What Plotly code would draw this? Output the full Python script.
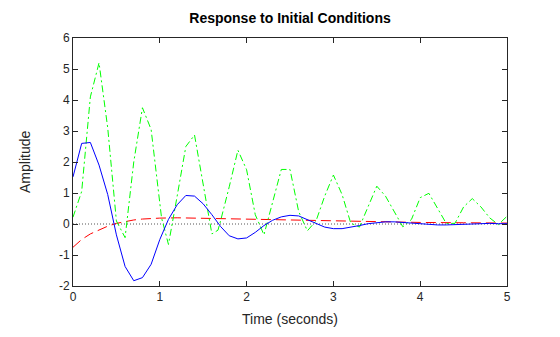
import plotly.graph_objects as go

# Blue (solid) response
blue_t = [0.0, 0.1, 0.2, 0.3, 0.4, 0.5, 0.6, 0.7, 0.8, 0.9, 1.0, 1.1, 1.2, 1.3, 1.4, 1.5,
          1.6, 1.7, 1.8, 1.9, 2.0, 2.1, 2.2, 2.3, 2.4, 2.5, 2.6, 2.7, 2.8, 2.9, 3.0,
          3.1, 3.2, 3.3, 3.4, 3.5, 3.6, 3.7, 3.8, 3.9, 4.0, 4.1, 4.2, 4.3, 4.4, 4.5,
          4.6, 4.7, 4.8, 4.9, 5.0]
blue_y = [1.52, 2.6, 2.63, 1.9, 0.95, -0.35, -1.37, -1.83, -1.73, -1.3, -0.5, 0.15, 0.62,
          0.92, 0.9, 0.65, 0.3, -0.08, -0.38, -0.48, -0.45, -0.27, -0.05, 0.12, 0.23,
          0.28, 0.26, 0.15, 0.02, -0.1, -0.15, -0.15, -0.11, -0.05, 0.01, 0.05, 0.07,
          0.07, 0.05, 0.02, -0.01, -0.03, -0.03, -0.03, -0.02, 0.0, 0.01, 0.02, 0.02,
          0.01, 0.01]

# Green (dash-dot) response
green_t = [0.0, 0.1, 0.2, 0.3, 0.4, 0.5, 0.6, 0.7, 0.8, 0.9, 1.02, 1.1, 1.2, 1.3, 1.4,
           1.5, 1.6, 1.67, 1.7, 1.8, 1.9, 2.0, 2.1, 2.2, 2.3, 2.4, 2.5, 2.6, 2.7, 2.8,
           2.9, 3.0, 3.1, 3.2, 3.3, 3.4, 3.5, 3.6, 3.7, 3.8, 3.9, 4.0, 4.1, 4.2, 4.3,
           4.4, 4.5, 4.6, 4.7, 4.8, 4.9, 5.0]
green_y = [0.22, 1.05, 4.1, 5.2, 3.1, 0.1, -0.44, 2.0, 3.75, 3.05, 0.2, -0.66, 0.9, 2.5,
           2.87, 1.3, -0.32, -0.2, 0.1, 1.2, 2.38, 1.75, 0.3, -0.35, 0.7, 1.76, 1.76,
           0.4, -0.22, 0.1, 0.9, 1.58, 0.95, 0.03, -0.1, 0.55, 1.22, 0.9, 0.4, -0.09,
           0.15, 0.85, 0.99, 0.5, 0.02, 0.02, 0.55, 0.82, 0.55, 0.2, -0.02, 0.25]

# Red (dashed) response
red_t = [0.0, 0.1, 0.2, 0.3, 0.4, 0.5, 0.6, 0.7, 0.8, 0.9, 1.0, 1.2, 1.4, 1.6, 1.8,
         2.0, 2.5, 3.0, 3.5, 4.0, 4.5, 5.0]
red_y = [-0.75, -0.5, -0.32, -0.19, -0.07, 0.02, 0.08, 0.13, 0.16, 0.18, 0.19, 0.2,
         0.19, 0.18, 0.17, 0.16, 0.12, 0.09, 0.07, 0.05, 0.04, 0.03]

x_ticks = [0, 1, 2, 3, 4, 5]
y_ticks = [-2, -1, 0, 1, 2, 3, 4, 5, 6]

title_text = "Response to Initial Conditions"
x_label = "Time (seconds)"
y_label = "Amplitude"

FONT = "Arial, 'Liberation Sans', sans-serif"
AX = "#262626"

fig = go.Figure()
fig.add_trace(go.Scatter(x=[0, 5], y=[0, 0], mode="lines",
                         line=dict(color="#555555", width=1, dash="1px,2px"),
                         hoverinfo="skip", showlegend=False))
fig.add_trace(go.Scatter(x=red_t, y=red_y, mode="lines",
                         line=dict(color="#FF0000", width=1, dash="10px,5px"),
                         showlegend=False))
fig.add_trace(go.Scatter(x=green_t, y=green_y, mode="lines",
                         line=dict(color="#00FF00", width=1, dash="7px,3px,2px,3px"),
                         showlegend=False))
fig.add_trace(go.Scatter(x=blue_t, y=blue_y, mode="lines",
                         line=dict(color="#0000FF", width=1),
                         showlegend=False))

axis_common = dict(showgrid=False, zeroline=False, showline=True, linecolor=AX,
                   linewidth=1, mirror="ticks", ticks="inside", ticklen=5,
                   tickcolor=AX, tickfont=dict(family=FONT, size=12, color=AX))

fig.update_xaxes(range=[0, 5], tickvals=x_ticks, ticktext=[str(v) for v in x_ticks],
                 **axis_common)
fig.update_yaxes(range=[-2, 6], tickvals=y_ticks, ticktext=[str(v) for v in y_ticks],
                 **axis_common)

fig.update_layout(
    width=560, height=337,
    margin=dict(l=73, r=53, t=38, b=51, pad=0),
    paper_bgcolor="white", plot_bgcolor="white",
    font=dict(family=FONT, color=AX),
    title=dict(text="<b>" + title_text + "</b>", x=0.5, xref="paper",
               y=1 - 18 / 337, yref="container", yanchor="middle",
               font=dict(family=FONT, size=14, color="#000000")),
    annotations=[
        dict(text=x_label, xref="paper", yref="paper", x=0.5,
             y=-(319 - 286) / 248, xanchor="center", yanchor="middle",
             showarrow=False, font=dict(family=FONT, size=14, color=AX)),
        dict(text=y_label, xref="paper", yref="paper",
             x=-(73 - 25) / 434, y=0.5, xanchor="center", yanchor="middle",
             textangle=-90, showarrow=False,
             font=dict(family=FONT, size=14, color=AX)),
    ],
)

fig.write_html("out.html")
